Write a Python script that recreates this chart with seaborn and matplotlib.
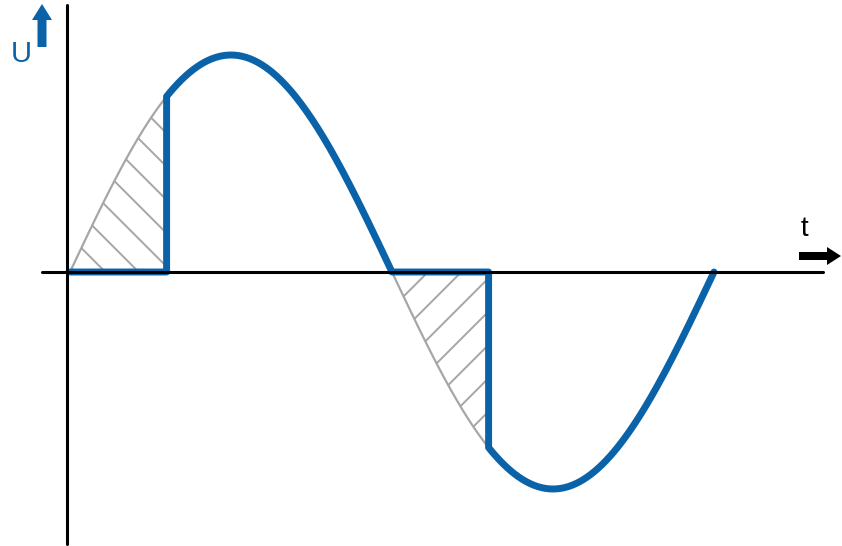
import numpy as np
import pandas as pd
import seaborn as sns
import matplotlib.pyplot as plt
from matplotlib.patches import FancyArrow

# phase-cut sine wave (values in degrees / relative amplitude)
cut_angle = 54          # firing angle
amplitude = 1.0
half_periods = [0, 180]  # start of each half wave
axis_label_u = 'U'
axis_label_t = 't'

blue = '#0a62a8'
grey = '#a6a6a6'

sns.set_theme(style='white')
plt.rcParams['font.family'] = ['Liberation Sans', 'DejaVu Sans']
plt.rcParams['hatch.linewidth'] = 0.7

dpi = 200
fig = plt.figure(figsize=(842 / dpi, 546 / dpi), dpi=dpi)
ax = fig.add_axes([0, 0, 1, 1])

# build the chopped waveform
rows = []
ideal = []
for k, start in enumerate(half_periods):
    rows.append((start, 0.0))
    rows.append((start + cut_angle, 0.0))
    deg = np.linspace(start + cut_angle, start + 180, 120)
    for d in deg:
        rows.append((d, amplitude * np.sin(np.radians(d))))
    deg_i = np.linspace(start, start + cut_angle, 60)
    ideal.append(pd.DataFrame({'deg': deg_i, 'u': amplitude * np.sin(np.radians(deg_i))}))
wave = pd.DataFrame(rows, columns=['deg', 'u'])

# hatched parts that are cut away
for k, part in enumerate(ideal):
    ax.fill_between(part['deg'], 0, part['u'], facecolor='none', edgecolor=grey,
                    hatch='\\\\' if k == 0 else '//', linewidth=0, zorder=1)
    sns.lineplot(data=part, x='deg', y='u', color=grey, lw=0.8, ax=ax,
                 sort=False, estimator=None, zorder=2)

sns.lineplot(data=wave, x='deg', y='u', color=blue, lw=2.5, ax=ax,
             sort=False, estimator=None, zorder=3)

# pixel -> data mapping chosen from the picture
x0, xs = 70, 644 / 360
y0, ys = 272, 217
ax.set_xlim((0 - x0) / xs, (842 - x0) / xs)
ax.set_ylim((y0 - 546) / ys, (y0 - 0) / ys)
ax.axis('off')

# axes drawn by hand
ax.plot([(67 - x0) / xs] * 2, [(y0 - 5) / ys, (y0 - 544) / ys], color='black', lw=1.1, zorder=4)
ax.plot([(42 - x0) / xs, (823 - x0) / xs], [0, 0], color='black', lw=1.1, zorder=4)


def inch(px, py):
    return px / dpi, (546 - py) / dpi


# arrows in inches so they keep their shape
ux, uy = inch(42, 47)
fig.add_artist(FancyArrow(ux, uy, 0, 43 / dpi, width=9 / dpi, head_width=20 / dpi,
                          head_length=16 / dpi, length_includes_head=True,
                          color=blue, lw=0, transform=fig.dpi_scale_trans))
tx, ty = inch(799, 256)
fig.add_artist(FancyArrow(tx, ty, 42 / dpi, 0, width=8 / dpi, head_width=18 / dpi,
                          head_length=14 / dpi, length_includes_head=True,
                          color='black', lw=0, transform=fig.dpi_scale_trans))


def fx(px):
    return px / 842


def fy(py):
    return 1 - py / 546


ax.text(fx(21), fy(54), axis_label_u, transform=ax.transAxes, color=blue,
        fontsize=10.5, ha='center', va='center')
ax.text(fx(804), fy(229), axis_label_t, transform=ax.transAxes, color='black',
        fontsize=10, ha='center', va='center')

plt.savefig('out.png', dpi=dpi)
